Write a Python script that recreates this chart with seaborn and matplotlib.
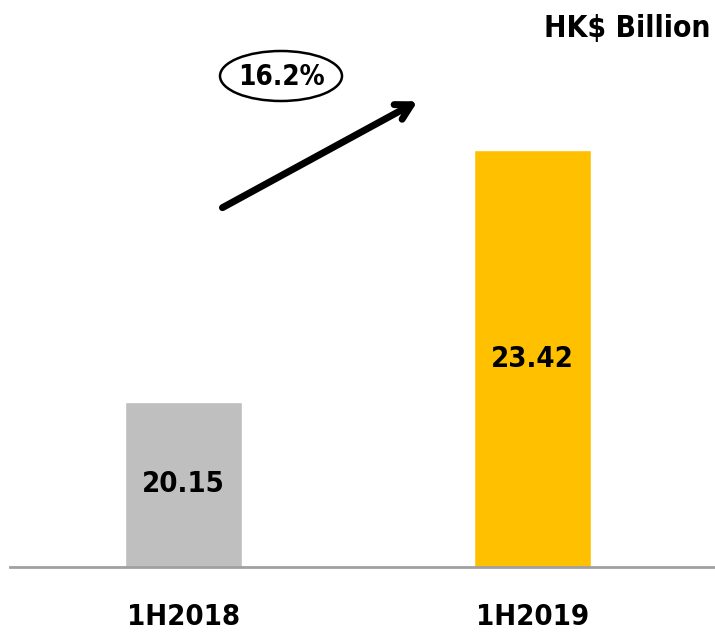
import matplotlib
matplotlib.use("Agg")
import matplotlib.pyplot as plt
import seaborn as sns
import pandas as pd
from matplotlib.patches import Ellipse

periods = ["1H2018", "1H2019"]
values = [20.15, 23.42]
bar_colors = ["#BFBFBF", "#FFC000"]
growth_label = "16.2%"
unit_label = "HK$ Billion"

sns.set_theme(style="white")
plt.rcParams['font.family'] = ['DejaVu Sans']
plt.rcParams['font.weight'] = 'bold'
plt.rcParams['font.stretch'] = 'condensed'
plt.rcParams['text.color'] = 'black'
plt.rcParams['xtick.color'] = 'black'

FONT = dict(fontweight="bold", fontstretch="condensed", color="black")

df = pd.DataFrame({"period": periods, "value": values})

fig = plt.figure(figsize=(7.15, 6.34), dpi=100)
ax = fig.add_axes([10/715, (634-567)/634, 705/715, 567/634])
sns.barplot(data=df, x="period", y="value", hue="period", palette=bar_colors,
            width=0.335, legend=False, ax=ax, saturation=1)
ax.set_xlim(-0.497, 1.523)
ymin, ymax = 18.0, 25.37
ax.set_ylim(ymin, ymax)
for s in ["top", "right", "left"]:
    ax.spines[s].set_visible(False)
ax.spines["bottom"].set_color("#A0A0A0")
ax.spines["bottom"].set_linewidth(2)
ax.set_yticks([])
ax.set_xlabel("")
ax.set_ylabel("")
ax.tick_params(axis="x", length=0, pad=26)
ax.set_xticks(range(len(periods)))
ax.set_xticklabels(periods, fontsize=21, **FONT)

for i, v in enumerate(values):
    ax.text(i, (ymin + v) / 2, f"{v:.2f}", ha="center", va="center",
            fontsize=21, **FONT)

fig.text(710/715, 1 - 28/634, unit_label, ha="right", va="center",
         fontsize=21.5, **FONT)

# growth arrow and ellipse (figure coordinates)
ax.annotate("", xy=(420/715, 1 - 100/634), xytext=(220/715, 1 - 209/634),
            xycoords="figure fraction", textcoords="figure fraction",
            arrowprops=dict(arrowstyle="->,head_length=0.9,head_width=0.5",
                            lw=5, color="black"))
ell = Ellipse((281/715, 1 - 76/634), 122/715, 50/634, transform=fig.transFigure,
              fill=False, edgecolor="black", lw=1.8)
fig.add_artist(ell)
fig.text(281/715, 1 - 77/634, growth_label, ha="center", va="center",
         fontsize=20, **FONT)

fig.savefig("out.png", dpi=100)
